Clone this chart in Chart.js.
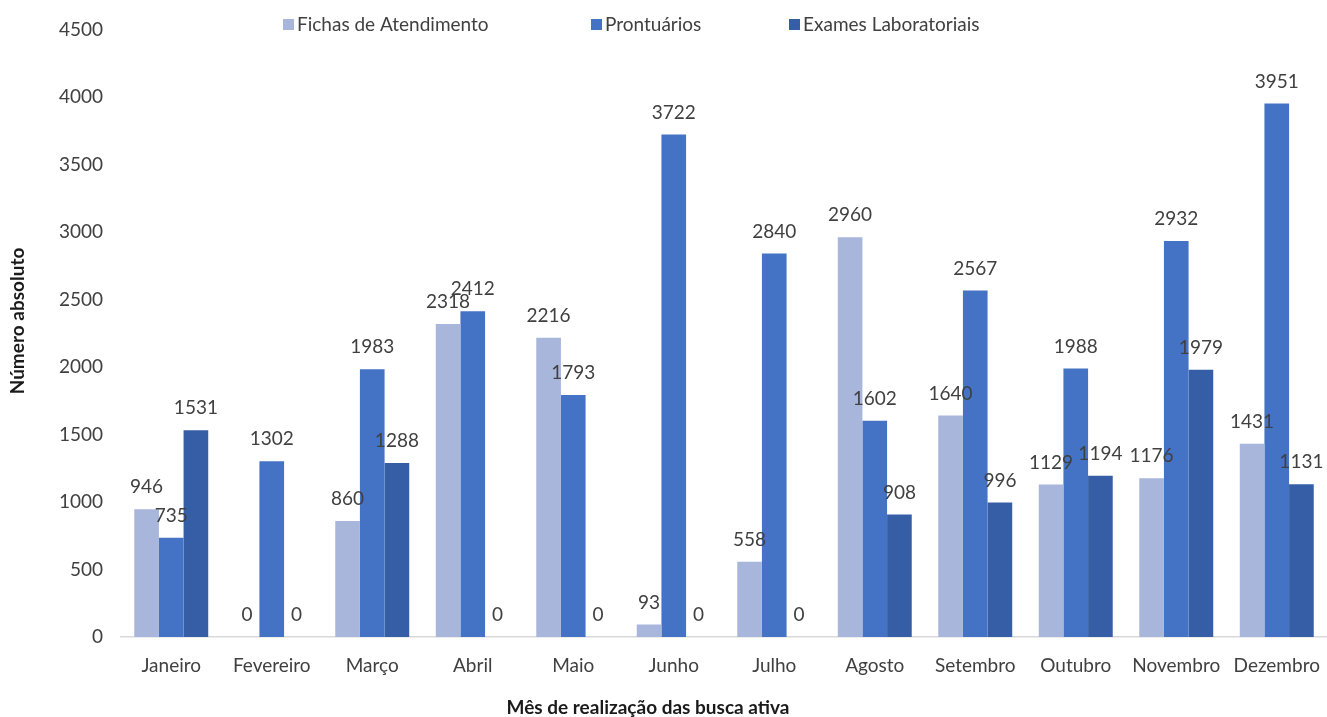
<!DOCTYPE html>
<html>
<head>
<meta charset="utf-8">
<script src="https://cdn.jsdelivr.net/npm/chart.js@4.4.1/dist/chart.umd.min.js"></script>
<style>
html,body{margin:0;padding:0;background:#fff;}
canvas{display:block;}
</style>
</head>
<body>
<canvas id="c" width="1327" height="717"></canvas>
<script>
const categories = ["Janeiro","Fevereiro","Março","Abril","Maio","Junho","Julho","Agosto","Setembro","Outubro","Novembro","Dezembro"];
const seriesNames = ["Fichas de Atendimento","Prontuários","Exames Laboratoriais"];
const fichas = [946, 0, 860, 2318, 2216, 93, 558, 2960, 1640, 1129, 1176, 1431];
const prontuarios = [735, 1302, 1983, 2412, 1793, 3722, 2840, 1602, 2567, 1988, 2932, 3951];
const exames = [1531, 0, 1288, 0, 0, 0, 0, 908, 996, 1194, 1979, 1131];
const yTicks = [0, 500, 1000, 1500, 2000, 2500, 3000, 3500, 4000, 4500];
const xTitle = "Mês de realização das busca ativa";
const yTitle = "Número absoluto";

const colors = ["#A9B6DB", "#4472C4", "#355EA6"];
const FONT = "Lato";
const TXT = "#404040";
const FS = 19;

const overlay = {
  id: 'overlay',
  afterDatasetsDraw(chart) {
    const ctx = chart.ctx;
    ctx.save();
    // data labels
    ctx.font = FS + "px " + FONT;
    ctx.fillStyle = TXT;
    ctx.textAlign = "center";
    ctx.textBaseline = "middle";
    chart.data.datasets.forEach((ds, i) => {
      const meta = chart.getDatasetMeta(i);
      meta.data.forEach((bar, j) => {
        ctx.fillText(String(ds.data[j]), bar.x, bar.y - 22);
      });
    });
    // legend
    const legendX = [283, 591, 789];
    ctx.textAlign = "left";
    chart.data.datasets.forEach((ds, i) => {
      ctx.fillStyle = ds.backgroundColor;
      ctx.fillRect(legendX[i], 19, 11, 11);
      ctx.fillStyle = TXT;
      ctx.fillText(ds.label, legendX[i] + 14, 25);
    });
    // axis titles
    ctx.font = "bold 19px " + FONT;
    ctx.fillStyle = "#1a1a1a";
    ctx.textAlign = "center";
    ctx.fillText(xTitle, 648, 708);
    ctx.translate(18, 321);
    ctx.rotate(-Math.PI / 2);
    ctx.fillText(yTitle, 0, 0);
    ctx.restore();
  }
};

new Chart(document.getElementById('c'), {
  type: 'bar',
  data: {
    labels: categories,
    datasets: [
      { label: seriesNames[0], data: fichas, backgroundColor: colors[0] },
      { label: seriesNames[1], data: prontuarios, backgroundColor: colors[1] },
      { label: seriesNames[2], data: exames, backgroundColor: colors[2] }
    ]
  },
  options: {
    responsive: false,
    animation: false,
    layout: { padding: { left: 0, right: 0, top: 27, bottom: 0 } },
    datasets: { bar: { categoryPercentage: 0.736, barPercentage: 1.0 } },
    plugins: { legend: { display: false }, tooltip: { enabled: false } },
    scales: {
      x: {
        grid: { display: false, drawTicks: false },
        border: { display: true, color: "#D9D9D9", width: 1.5 },
        ticks: { color: TXT, font: { family: FONT, size: FS }, padding: 17, maxRotation: 0, autoSkip: false },
        afterFit(s) { s.height = 80; s.paddingLeft = 0; s.paddingRight = 0; }
      },
      y: {
        min: 0, max: 4500,
        afterBuildTicks(s) { s.ticks = yTicks.map(v => ({ value: v })); },
        grid: { display: false, drawTicks: false },
        border: { display: false },
        ticks: { color: TXT, font: { family: FONT, size: FS }, padding: 18, callback: v => String(v) },
        afterFit(s) { s.width = 121; }
      }
    }
  },
  plugins: [overlay]
});
</script>
</body>
</html>
